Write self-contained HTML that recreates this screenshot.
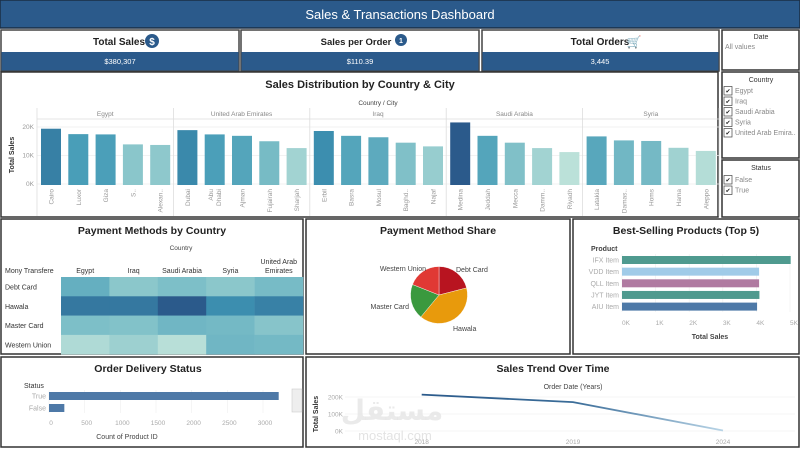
<!DOCTYPE html>
<html><head><meta charset="utf-8"><style>
body{margin:0;background:#fff;width:800px;height:449px;overflow:hidden;font-family:"Liberation Sans","DejaVu Sans",sans-serif}
svg text{font-family:"Liberation Sans","DejaVu Sans",sans-serif}
</style></head><body>
<svg id="s" width="800" height="449" viewBox="0 0 800 449" xmlns="http://www.w3.org/2000/svg">
<rect x="0" y="0" width="800" height="449" fill="#fff"/>
<!-- header -->
<rect x="0" y="0" width="800" height="28" fill="#2b5a8b" stroke="#1b2e45" stroke-width="1.5"/>
<text x="400" y="19" text-anchor="middle" fill="#fff" font-size="13">Sales &amp; Transactions Dashboard</text>
<!-- KPIs -->
<g>
<rect x="1" y="30" width="238" height="41" fill="#fff" stroke="#444" stroke-width="1.5"/><rect x="1.5" y="52" width="237" height="18.5" fill="#2b5a8b"/>
<text x="119" y="45" text-anchor="middle" font-size="10" font-weight="bold" fill="#222">Total Sales</text>
<circle cx="152" cy="41" r="7" fill="#2b5a8b"/><text x="152" y="45" text-anchor="middle" font-size="10" font-weight="bold" fill="#fff">$</text>
<text x="120" y="64" text-anchor="middle" font-size="7.5" fill="#fff">$380,307</text></g>
<g>
<rect x="241" y="30" width="238" height="41" fill="#fff" stroke="#444" stroke-width="1.5"/><rect x="241.5" y="52" width="237" height="18.5" fill="#2b5a8b"/>
<text x="356" y="45" text-anchor="middle" font-size="9.5" font-weight="bold" fill="#222">Sales per Order</text>
<circle cx="401" cy="40" r="6" fill="#2b5a8b"/><text x="401" y="43" text-anchor="middle" font-size="7" font-weight="bold" fill="#fff">1</text>
<text x="360" y="64" text-anchor="middle" font-size="7.5" fill="#fff">$110.39</text></g>
<g>
<rect x="482" y="30" width="237" height="41" fill="#fff" stroke="#444" stroke-width="1.5"/><rect x="482.5" y="52" width="236" height="18.5" fill="#2b5a8b"/>
<text x="600" y="45" text-anchor="middle" font-size="10" font-weight="bold" fill="#222">Total Orders</text>
<text x="634" y="46" text-anchor="middle" font-size="12" fill="#2b5a8b">🛒</text>
<text x="600" y="64" text-anchor="middle" font-size="7.5" fill="#fff">3,445</text></g>
<!-- filters -->
<g>
<rect x="722" y="30" width="77" height="40" fill="#fff" stroke="#333" stroke-width="1.5"/>
<text x="761" y="39" text-anchor="middle" font-size="7" fill="#333">Date</text>
<text x="725" y="49" font-size="7" fill="#888">All values</text></g>
<g id="cf">
<rect x="722" y="72" width="77" height="86" fill="#fff" stroke="#333" stroke-width="1.5"/>
<text x="761" y="82" text-anchor="middle" font-size="7" fill="#333">Country</text></g>
<g id="sf">
<rect x="722" y="160" width="77" height="57" fill="#fff" stroke="#333" stroke-width="1.5"/>
<text x="761" y="170" text-anchor="middle" font-size="7" fill="#333">Status</text></g>
<!-- panels -->
<rect x="1" y="72" width="717" height="145" fill="none" stroke="#333" stroke-width="1.5"/>
<rect x="1" y="219" width="302" height="135" fill="none" stroke="#333" stroke-width="1.5"/>
<rect x="306" y="219" width="264" height="135" fill="none" stroke="#333" stroke-width="1.5"/>
<rect x="573" y="219" width="226" height="135" fill="none" stroke="#333" stroke-width="1.5"/>
<rect x="1" y="357" width="302" height="90" fill="none" stroke="#333" stroke-width="1.5"/>
<rect x="306" y="357" width="493" height="90" fill="none" stroke="#333" stroke-width="1.5"/>
<!-- titles -->
<text x="360" y="88" text-anchor="middle" font-size="11" font-weight="bold" fill="#222">Sales Distribution by Country &amp; City</text>
<text x="378" y="105" text-anchor="middle" font-size="6.5" fill="#444">Country / City</text>
<text x="152" y="234" text-anchor="middle" font-size="10.5" font-weight="bold" fill="#222">Payment Methods by Country</text>
<text x="181" y="250" text-anchor="middle" font-size="6.5" fill="#444">Country</text>
<text x="438" y="234" text-anchor="middle" font-size="10.5" font-weight="bold" fill="#222">Payment Method Share</text>
<text x="686" y="234" text-anchor="middle" font-size="10.5" font-weight="bold" fill="#222">Best-Selling Products (Top 5)</text>
<text x="148" y="372" text-anchor="middle" font-size="10.5" font-weight="bold" fill="#222">Order Delivery Status</text>
<text x="553" y="372" text-anchor="middle" font-size="10.5" font-weight="bold" fill="#222">Sales Trend Over Time</text>
<g id="g"></g>
</svg>
<script>
var NS='http://www.w3.org/2000/svg',G=document.getElementById('g');
function el(t,a,p,txt){var e=document.createElementNS(NS,t);for(var k in a)e.setAttribute(k,a[k]);if(txt!=null)e.textContent=txt;(p||G).appendChild(e);return e;}
function lerp(a,b,t){return a+(b-a)*t}
function hex(c){return [parseInt(c.substr(1,2),16),parseInt(c.substr(3,2),16),parseInt(c.substr(5,2),16)]}
function ramp(t){var s=['#bfe3da','#7fc0c8','#3f97b5','#2b5a8b'];t=Math.max(0,Math.min(1,t));var i=Math.min(2,Math.floor(t*3)),f=t*3-i;var a=hex(s[i]),b=hex(s[i+1]);return 'rgb('+[0,1,2].map(function(j){return Math.round(lerp(a[j],b[j],f))}).join(',')+')';}

/* ---- sales distribution data ---- */
var countries=['Egypt','United Arab Emirates','Iraq','Saudi Arabia','Syria'];
var cities=[['Cairo','Luxor','Giza','S..','Alexan..'],['Dubai','Abu Dhabi','Ajman','Fujairah','Sharjah'],['Erbil','Basra','Mosul','Baghd..','Najaf'],['Medina','Jeddah','Mecca','Damm..','Riyadh'],['Latakia','Damas..','Homs','Hama','Aleppo']];
var citySales=[[19400,17500,17400,13900,13700],[18900,17400,16900,15000,12600],[18600,16900,16400,14500,13200],[21600,16900,14500,12600,11200],[16700,15300,15100,12700,11600]];
var distTicks=[0,10000,20000];
var distTickLabels=['0K','10K','20K'];

var x0=37,pw=136.4,base=184,ppv=57/20000;
function yD(v){return base-v*ppv}
el('text',{x:14,y:155,'font-size':7,'font-weight':'bold',fill:'#333','text-anchor':'middle',transform:'rotate(-90 14 155)'},null,'Total Sales');
distTicks.forEach(function(t,i){
  el('line',{x1:x0,x2:x0+pw*5,y1:yD(t),y2:yD(t),stroke:'#eee','stroke-width':0.7});
  var l=el('text',{x:34,y:yD(t)+2,'font-size':6.5,fill:'#999','text-anchor':'end'},null,distTickLabels[i]);
  
  
});
el('line',{x1:x0,x2:x0+pw*5,y1:119,y2:119,stroke:'#ddd','stroke-width':0.8});
var mn=11000,mx=21600;
countries.forEach(function(c,ci){
  var px=x0+ci*pw;
  el('line',{x1:px,x2:px,y1:108,y2:216,stroke:'#ddd','stroke-width':0.8});
  var h=el('text',{x:px+pw/2,y:116,'font-size':6.5,fill:'#888','text-anchor':'middle'},null,c);
  
  
  cities[ci].forEach(function(city,j){
    var v=citySales[ci][j],bx=px+4+j*27.3;
    var r=el('rect',{x:bx,y:yD(v),width:20,height:base-yD(v)+1,fill:ramp((v-mn)/(mx-mn))});
    
    
    var words=city.split(' ');
    words.forEach(function(w,k){
      var tx=bx+10+(k-(words.length-1)/2)*8+2.5;
      var t=el('text',{x:tx,y:189,'font-size':6.5,fill:'#999','text-anchor':'end',transform:'rotate(-90 '+tx+' 189)'},null,w);
      
      
    });
  });
});
el('line',{x1:x0+pw*5,x2:x0+pw*5,y1:108,y2:216,stroke:'#ddd','stroke-width':0.8});

/* ---- filters ---- */
var countryFilter=['Egypt','Iraq','Saudi Arabia','Syria','United Arab Emira..'];
var statusFilter=['False','True'];
function items(list,y0,name){list.forEach(function(s,i){var y=y0+i*10.5;
  var b=el('rect',{x:724,y:y-6.5,width:8,height:8.5,fill:'#fff',stroke:'#444','stroke-width':0.7});
  
  
  el('text',{x:725.5,y:y,'font-size':6,fill:'#222'},null,'✔');
  var t=el('text',{x:735,y:y,'font-size':7,fill:'#888'},null,s);
  
  
});}
items(countryFilter,93,'country-filter');
items(statusFilter,182,'status-filter');

/* ---- heatmap ---- */
var hmCountries=['Egypt','Iraq','Saudi Arabia','Syria','United Arab Emirates'];
var hmMethods=['Debt Card','Hawala','Master Card','Western Union'];
var hmValues=[[0.55,0.38,0.44,0.38,0.47],[0.86,0.86,1.0,0.76,0.82],[0.44,0.42,0.5,0.48,0.4],[0.22,0.3,0.18,0.5,0.48]];
var hx=61,hw=48.4,hy=277,hh=19.3;
el('text',{x:5,y:273,'font-size':7,fill:'#333'},null,'Mony Transfere');
hmCountries.forEach(function(c,i){var cx=hx+i*hw+hw/2;
  if(c==='United Arab Emirates'){el('text',{x:cx,y:264,'font-size':7,fill:'#333','text-anchor':'middle'},null,'United Arab');el('text',{x:cx,y:273,'font-size':7,fill:'#333','text-anchor':'middle'},null,'Emirates');}
  else{var t=el('text',{x:cx,y:273,'font-size':7,fill:'#333','text-anchor':'middle'},null,c);}
});
hmMethods.forEach(function(m,r){
  var t=el('text',{x:5,y:hy+r*hh+12.5,'font-size':7,fill:'#333'},null,m);
  
  
  hmValues[r].forEach(function(v,c){
    var cell=el('rect',{x:hx+c*hw,y:hy+r*hh,width:hw+0.3,height:hh+0.3,fill:ramp((v-0.15)/0.85)});
    
    
  });
});

/* ---- pie ---- */
var pieLabels=['Debt Card','Hawala','Master Card','Western Union'];
var pieValues=[21,40,20,19];
var pieColors=['#b81420','#e89a0c','#3a993e','#e03934'];
var pcx=439,pcy=295,pr=28.5,tot=pieValues.reduce(function(a,b){return a+b},0),ang=0;
var lp=[[456,272,'start'],[453,331,'start'],[409,309,'end'],[426,271,'end']];
pieValues.forEach(function(v,i){
  var a0=ang/tot*2*Math.PI,a1=(ang+v)/tot*2*Math.PI;ang+=v;
  var x1=pcx+pr*Math.sin(a0),y1=pcy-pr*Math.cos(a0),x2=pcx+pr*Math.sin(a1),y2=pcy-pr*Math.cos(a1);
  var p=el('path',{d:'M'+pcx+','+pcy+'L'+x1+','+y1+'A'+pr+','+pr+' 0 '+((a1-a0)>Math.PI?1:0)+' 1 '+x2+','+y2+'Z',fill:pieColors[i],stroke:'#fff','stroke-width':0.4});
  
  
  var t=el('text',{x:lp[i][0],y:lp[i][1],'font-size':7,fill:'#444','text-anchor':lp[i][2]},null,pieLabels[i]);
  
  
});

/* ---- best selling ---- */
var products=['IFX Item','VDD Item','QLL Item','JYT Item','AIU Item'];
var productSales=[5020,4080,4080,4090,4020];
var productColors=['#4f9a8f','#a0cbe8','#b07aa1','#4f9a8f','#4e79a7'];
var prodTicks=[0,1000,2000,3000,4000,5000];
var prodTickLabels=['0K','1K','2K','3K','4K','5K'];
function xP(v){return 622+v*168/5000}
el('text',{x:591,y:251,'font-size':7,'font-weight':'bold',fill:'#444'},null,'Product');
prodTicks.forEach(function(t,i){
  el('line',{x1:xP(t),x2:xP(t),y1:254,y2:312,stroke:'#f0f0f0','stroke-width':0.7});
  var l=el('text',{x:xP(t)+4,y:325,'font-size':6.5,fill:'#aaa','text-anchor':'middle'},null,prodTickLabels[i]);
  
  
});
products.forEach(function(p,i){var y=260+i*11.65;
  var r=el('rect',{x:622,y:y-4,width:xP(productSales[i])-622,height:8,fill:productColors[i]});
  
  
  el('text',{x:619,y:y+2.5,'font-size':7,fill:'#aaa','text-anchor':'end'},null,p);
});
el('text',{x:710,y:339,'font-size':7,'font-weight':'bold',fill:'#444','text-anchor':'middle'},null,'Total Sales');

/* ---- order delivery ---- */
var statuses=['True','False'];
var statusCounts=[3220,215];
var delTicks=[0,500,1000,1500,2000,2500,3000];
function xS(v){return 49+v*(265-51)/3000}
el('text',{x:24,y:388,'font-size':7,fill:'#333'},null,'Status');
delTicks.forEach(function(t){
  el('line',{x1:xS(t),x2:xS(t),y1:390,y2:413,stroke:'#f0f0f0','stroke-width':0.7});
  var l=el('text',{x:xS(t)+2,y:425,'font-size':6.5,fill:'#aaa','text-anchor':'middle'},null,String(t));
  
  
});
statuses.forEach(function(s,i){var y=396+i*12;
  var r=el('rect',{x:49,y:y-4,width:xS(statusCounts[i])-49,height:8,fill:'#4e79a7'});
  
  
  el('text',{x:46,y:y+2.5,'font-size':7,fill:'#aaa','text-anchor':'end'},null,s);
});
el('text',{x:127,y:439,'font-size':7,fill:'#444','text-anchor':'middle'},null,'Count of Product ID');
var sb=el('rect',{x:292,y:389,width:10,height:23,fill:'#eee',stroke:'#ccc','stroke-width':0.6});



/* ---- sales trend ---- */
var years=['2018','2019','2024'];
var yearSales=[214000,170000,3000];
var trendTicks=[0,100000,200000];
var trendTickLabels=['0K','100K','200K'];
var yearX={'2018':421.7,'2019':573,'2024':723};
function yT(v){return 431-v*34/200000}
el('text',{x:573,y:389,'font-size':7,fill:'#444','text-anchor':'middle'},null,'Order Date (Years)');
el('text',{x:318,y:414,'font-size':7,'font-weight':'bold',fill:'#333','text-anchor':'middle',transform:'rotate(-90 318 414)'},null,'Total Sales');
trendTicks.forEach(function(t,i){
  el('line',{x1:345,x2:795,y1:yT(t),y2:yT(t),stroke:'#f2f2f2','stroke-width':0.7});
  el('text',{x:343,y:yT(t)+2.5,'font-size':6.5,fill:'#aaa','text-anchor':'end'},null,trendTickLabels[i]);
});
/* watermark */
el('text',{x:392,y:420,'font-size':28,fill:'#e3e3e3','fill-opacity':0.75,'text-anchor':'middle','font-weight':'bold'},null,'مستقل');
el('text',{x:395,y:440,'font-size':13,fill:'#e3e3e3','text-anchor':'middle'},null,'mostaql.com');
var defs=el('defs',{});var lg=el('linearGradient',{id:'tg',x1:0,x2:1,y1:0,y2:0},defs);
el('stop',{offset:'0','stop-color':'#2b5a8b'},lg);el('stop',{offset:'0.5','stop-color':'#3a6c98'},lg);el('stop',{offset:'1','stop-color':'#b8d4e6'},lg);
var d=years.map(function(y,i){return (i?'L':'M')+yearX[y]+','+yT(yearSales[i])}).join('');
var ln=el('path',{d:d,fill:'none',stroke:'url(#tg)','stroke-width':1.8});


years.forEach(function(y){
  var t=el('text',{x:yearX[y],y:444,'font-size':6.5,fill:'#aaa','text-anchor':'middle'},null,y);
  
  
});
</script>
</body></html>
